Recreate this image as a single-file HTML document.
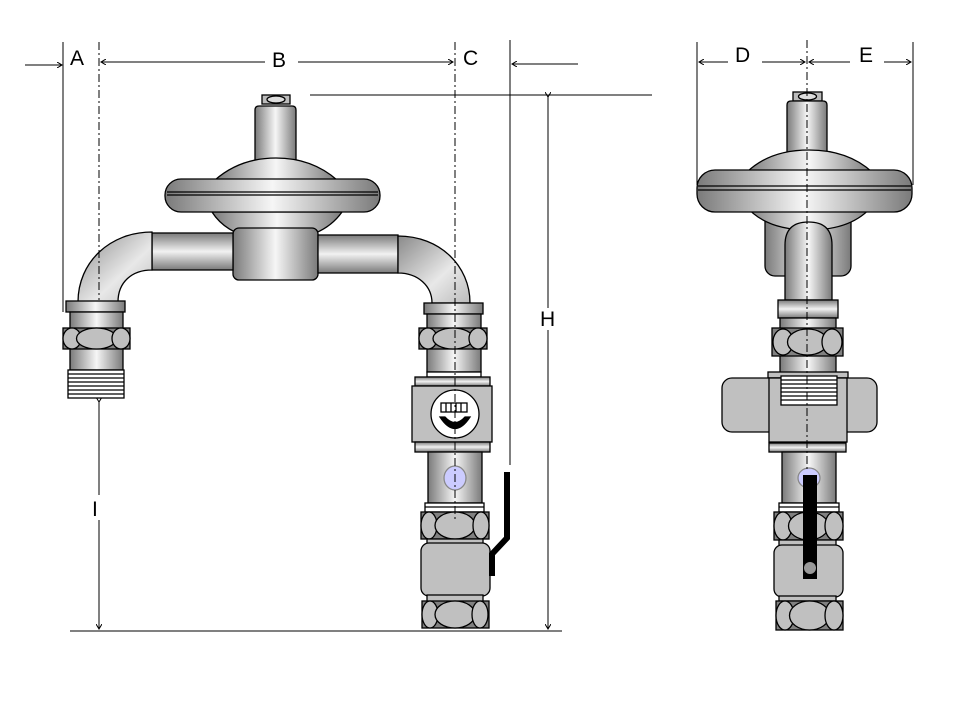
<!DOCTYPE html>
<html><head><meta charset="utf-8"><style>
html,body{margin:0;padding:0;background:#fff;width:960px;height:720px;overflow:hidden}
svg{display:block}
text{font-family:"Liberation Sans",sans-serif;font-size:21px;fill:#000}
</style></head><body>
<svg width="960" height="720" viewBox="0 0 960 720" xmlns="http://www.w3.org/2000/svg">
<defs>
<linearGradient id="gx" x1="0" y1="0" x2="1" y2="0">
<stop offset="0" stop-color="#7a7a7a"/><stop offset="0.5" stop-color="#f6f6f6"/><stop offset="1" stop-color="#7a7a7a"/></linearGradient>
<linearGradient id="gy" x1="0" y1="0" x2="0" y2="1">
<stop offset="0" stop-color="#7a7a7a"/><stop offset="0.5" stop-color="#f2f2f2"/><stop offset="1" stop-color="#7a7a7a"/></linearGradient>
<linearGradient id="gd" x1="0" y1="0" x2="1" y2="1">
<stop offset="0" stop-color="#8a8a8a"/><stop offset="0.6" stop-color="#e8e8e8"/><stop offset="1" stop-color="#bbb"/></linearGradient>
<marker id="ar" markerWidth="6" markerHeight="6" refX="5" refY="3" orient="auto"><path d="M0,0 L5,3 L0,6" fill="none" stroke="#000" stroke-width="1"/></marker>
</defs>
<g stroke="#000" stroke-width="1" fill="none">
<line x1="25" y1="65" x2="62" y2="65" marker-end="url(#ar)"/>
<line x1="63" y1="42" x2="63" y2="312"/>
<line x1="265" y1="62" x2="101" y2="62" marker-end="url(#ar)"/>
<line x1="298" y1="62" x2="453" y2="62" marker-end="url(#ar)"/>
<line x1="510" y1="40" x2="510" y2="465"/>
<line x1="578" y1="64" x2="512" y2="64" marker-end="url(#ar)"/>
<line x1="310" y1="95" x2="652" y2="95"/>
<line x1="548" y1="97" x2="548" y2="308" marker-start="url(#ar)"/>
<line x1="548" y1="330" x2="548" y2="629" marker-end="url(#ar)"/>
<line x1="70" y1="631" x2="562" y2="631"/>
<line x1="99" y1="402" x2="99" y2="495" marker-start="url(#ar)"/>
<line x1="99" y1="520" x2="99" y2="629" marker-end="url(#ar)"/>
<line x1="697" y1="42" x2="697" y2="185"/>
<line x1="913" y1="42" x2="913" y2="185"/>
<line x1="728" y1="62" x2="699" y2="62" marker-end="url(#ar)"/>
<line x1="762" y1="62" x2="805" y2="62" marker-end="url(#ar)"/>
<line x1="850" y1="62" x2="809" y2="62" marker-end="url(#ar)"/>
<line x1="884" y1="62" x2="911" y2="62" marker-end="url(#ar)"/>
</g>
<text x="70" y="65">A</text><text x="272" y="67">B</text><text x="463" y="65">C</text>
<text x="540" y="326">H</text><text x="92" y="516">I</text>
<text x="735" y="62">D</text><text x="859" y="62">E</text>

<g stroke="#000" stroke-width="1.3">
<rect x="262" y="95" width="28" height="9" fill="#bbb"/>
<ellipse cx="276" cy="99.5" rx="9" ry="3.5" fill="#ddd"/>
<path d="M255,110 Q255,106 259,106 L292,106 Q296,106 296,110 L296,160 L255,160 Z" fill="url(#gx)"/>
<path d="M212,212 Q230,240 276,240 Q322,240 342,212 Z" fill="url(#gx)"/>
<rect x="233" y="228" width="85" height="52" rx="6" fill="url(#gx)"/>
<path d="M215,180 Q240,158 276,158 Q312,158 337,180 Z" fill="url(#gx)"/>
<rect x="165" y="179" width="215" height="33" rx="16" fill="url(#gx)"/>
<line x1="167" y1="192" x2="378" y2="192"/><line x1="167" y1="195" x2="378" y2="195"/>
<rect x="152" y="233" width="81" height="37" fill="url(#gy)"/>
<rect x="318" y="235" width="80" height="38" fill="url(#gy)"/>
<path d="M152,232 C110,232 78,262 78,302 L118,302 C118,282 132,270 152,270 Z" fill="url(#gd)"/>
<path d="M398,236 C440,236 470,266 470,303 L432,303 C432,286 418,273 398,273 Z" fill="url(#gd)"/>
<rect x="66" y="301" width="59" height="11" fill="url(#gx)"/>
<rect x="70" y="312" width="53" height="58" fill="url(#gx)"/>
<rect x="63" y="328" width="67" height="21" fill="#808080"/>
<ellipse cx="72" cy="338.5" rx="9" ry="10.5" fill="#c0c0c0"/>
<ellipse cx="96.5" cy="338.5" rx="20" ry="10.5" fill="#c0c0c0"/>
<ellipse cx="121" cy="338.5" rx="9" ry="10.5" fill="#c0c0c0"/>
<rect x="68" y="370" width="56" height="28" fill="#fff"/>
<path d="M68,374H124M68,378H124M68,382H124M68,386H124M68,390H124M68,394H124"/>
<rect x="424" y="303" width="59" height="11" fill="url(#gx)"/>
<rect x="427" y="314" width="54" height="58" fill="url(#gx)"/>
<rect x="419" y="328" width="68" height="21" fill="#808080"/>
<ellipse cx="428" cy="338.5" rx="9" ry="10.5" fill="#c0c0c0"/>
<ellipse cx="453" cy="338.5" rx="20" ry="10.5" fill="#c0c0c0"/>
<ellipse cx="478" cy="338.5" rx="9" ry="10.5" fill="#c0c0c0"/>
<rect x="427" y="372" width="54" height="5" fill="#fff"/>
<rect x="415" y="377" width="75" height="9" fill="url(#gy)"/>
<rect x="412" y="386" width="80" height="56" fill="#c0c0c0"/>
<rect x="415" y="442" width="75" height="10" fill="url(#gy)"/>
<circle cx="455" cy="414" r="24" fill="#fff"/>
<rect x="441" y="403" width="26" height="9" fill="#fff"/>
<path d="M446,403V412M451,403V412M456,403V412M461,403V412"/>
<path d="M440,417 Q455,440 470,417 L465,417 Q455,428 445,417 Z" fill="#000"/>
<rect x="428" y="452" width="54" height="51" fill="url(#gx)"/>
<ellipse cx="455" cy="478" rx="11" ry="12" fill="#ccccff" stroke="#888"/>
<rect x="425" y="503" width="59" height="9" fill="#fff"/>
<line x1="425" y1="507" x2="484" y2="507"/>
<rect x="421" y="512" width="68" height="27" fill="#808080"/>
<ellipse cx="429" cy="525.5" rx="8" ry="13.5" fill="#c0c0c0"/>
<ellipse cx="455" cy="525.5" rx="20" ry="13.5" fill="#c0c0c0"/>
<ellipse cx="481" cy="525.5" rx="8" ry="13.5" fill="#c0c0c0"/>
<rect x="427" y="539" width="56" height="6" fill="#c0c0c0"/>
<rect x="421" y="543" width="69" height="53" rx="8" fill="#c0c0c0"/>
<rect x="427" y="595" width="56" height="7" fill="#c0c0c0"/>
<rect x="422" y="601" width="67" height="27" fill="#808080"/>
<ellipse cx="430" cy="614.5" rx="8" ry="13.5" fill="#c0c0c0"/>
<ellipse cx="455" cy="614.5" rx="20" ry="13.5" fill="#c0c0c0"/>
<ellipse cx="480" cy="614.5" rx="8" ry="13.5" fill="#c0c0c0"/>
</g>
<path d="M507,472 V538 L492,554 V576" fill="none" stroke="#000" stroke-width="6"/>

<g stroke="#000" stroke-width="1.3">
<rect x="793" y="92" width="29" height="9" fill="#bbb"/>
<ellipse cx="807.5" cy="96.5" rx="9" ry="3.5" fill="#ddd"/>
<path d="M787,105 Q787,101 791,101 L823,101 Q827,101 827,105 L827,153 L787,153 Z" fill="url(#gx)"/>
<rect x="765" y="210" width="86" height="66" rx="10" fill="url(#gx)"/>
<path d="M745,205 Q765,230 809,230 Q853,230 873,205 Z" fill="url(#gx)"/>
<path d="M747,172 Q770,150 809,150 Q848,150 872,172 Z" fill="url(#gx)"/>
<rect x="697" y="170" width="215" height="42" rx="18" fill="url(#gx)"/>
<line x1="698" y1="186" x2="911" y2="186"/><line x1="698" y1="190" x2="911" y2="190"/>
<path d="M785,300 V245 Q785,222 808.5,222 Q832,222 832,245 V300 Z" fill="url(#gx)"/>
<rect x="778" y="300" width="60" height="18" fill="url(#gy)"/>
<rect x="780" y="318" width="56" height="58" fill="url(#gx)"/>
<rect x="772" y="328" width="71" height="28" fill="#808080"/>
<ellipse cx="783" cy="342" rx="10" ry="13" fill="#c0c0c0"/>
<ellipse cx="807.5" cy="342" rx="20" ry="13" fill="#c0c0c0"/>
<ellipse cx="832" cy="342" rx="10" ry="13" fill="#c0c0c0"/>
<rect x="768" y="372" width="80" height="6" fill="#c0c0c0"/>
<rect x="722" y="378" width="155" height="54" rx="10" fill="#c0c0c0"/>
<rect x="769" y="378" width="78" height="64" fill="#c0c0c0"/>
<rect x="781" y="376" width="56" height="29" fill="#fff"/>
<path d="M781,380H837M781,384H837M781,388H837M781,392H837M781,396H837M781,400H837"/>
<rect x="769" y="443" width="77" height="9" fill="url(#gy)"/>
<rect x="782" y="452" width="54" height="51" fill="url(#gx)"/>
<ellipse cx="809" cy="478" rx="11" ry="10" fill="#ccccff" stroke="#888"/>
<rect x="779" y="503" width="60" height="9" fill="#fff"/>
<line x1="779" y1="507" x2="839" y2="507"/>
<rect x="774" y="512" width="69" height="28" fill="#808080"/>
<ellipse cx="783" cy="526" rx="9" ry="14" fill="#c0c0c0"/>
<ellipse cx="808.5" cy="526" rx="20" ry="14" fill="#c0c0c0"/>
<ellipse cx="834" cy="526" rx="9" ry="14" fill="#c0c0c0"/>
<rect x="779" y="540" width="57" height="6" fill="#c0c0c0"/>
<rect x="774" y="545" width="69" height="52" rx="8" fill="#c0c0c0"/>
<rect x="779" y="596" width="57" height="5" fill="#c0c0c0"/>
<rect x="776" y="601" width="67" height="29" fill="#808080"/>
<ellipse cx="785" cy="615.5" rx="9" ry="14.5" fill="#c0c0c0"/>
<ellipse cx="809.5" cy="615.5" rx="20" ry="14.5" fill="#c0c0c0"/>
<ellipse cx="834" cy="615.5" rx="9" ry="14.5" fill="#c0c0c0"/>
</g>
<rect x="803" y="475" width="14" height="104" fill="#000"/>
<ellipse cx="810" cy="568" rx="6" ry="6" fill="#999"/>
<g stroke="#000" stroke-width="1" stroke-dasharray="8,3,2,3">
<line x1="807" y1="40" x2="807" y2="472"/>
<line x1="99" y1="42" x2="99" y2="300"/>
<line x1="455" y1="42" x2="455" y2="520"/>
</g>
</svg>
</body></html>
